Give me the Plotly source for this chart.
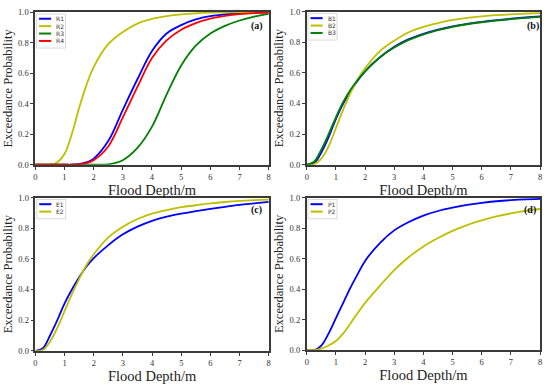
import plotly.graph_objects as go

depth = [0, 0.25, 0.5, 0.75, 1, 1.25, 1.5, 1.75, 2, 2.5, 3, 3.5, 4, 4.5, 5, 5.5, 6, 6.5, 7, 7.5, 8]

# Panel (a)
R1 = [0, 0, 0, 0, 0, 0, 0.004, 0.015, 0.04, 0.155, 0.36, 0.56, 0.745, 0.86, 0.915, 0.952, 0.973, 0.985, 0.992, 0.996, 0.998]
R2 = [0, 0, 0, 0.015, 0.07, 0.2, 0.37, 0.52, 0.64, 0.79, 0.87, 0.925, 0.955, 0.973, 0.985, 0.992, 0.996, 0.998, 0.999, 1.0, 1.0]
R3 = [0, 0, 0, 0, 0, 0, 0, 0, 0, 0.003, 0.03, 0.11, 0.25, 0.46, 0.65, 0.78, 0.86, 0.91, 0.945, 0.97, 0.988]
R4 = [0, 0, 0, 0, 0, 0, 0.003, 0.01, 0.03, 0.12, 0.31, 0.51, 0.70, 0.815, 0.885, 0.928, 0.957, 0.975, 0.987, 0.994, 0.997]
# Panel (b)
B1 = [0, 0.01, 0.08, 0.18, 0.30, 0.40, 0.48, 0.55, 0.61, 0.70, 0.77, 0.82, 0.855, 0.882, 0.903, 0.92, 0.933, 0.944, 0.953, 0.961, 0.968]
B2 = [0, 0.003, 0.04, 0.12, 0.24, 0.36, 0.47, 0.56, 0.63, 0.74, 0.81, 0.865, 0.9, 0.925, 0.945, 0.958, 0.968, 0.976, 0.982, 0.986, 0.99]
B3 = [0, 0.02, 0.10, 0.20, 0.31, 0.41, 0.49, 0.555, 0.61, 0.70, 0.765, 0.815, 0.85, 0.878, 0.90, 0.917, 0.93, 0.941, 0.95, 0.958, 0.965]
# Panel (c)
E1 = [0, 0.015, 0.10, 0.20, 0.31, 0.40, 0.48, 0.55, 0.605, 0.69, 0.76, 0.81, 0.848, 0.875, 0.895, 0.912, 0.927, 0.94, 0.952, 0.962, 0.972]
E2 = [0, 0.005, 0.06, 0.15, 0.26, 0.37, 0.47, 0.56, 0.63, 0.74, 0.81, 0.86, 0.895, 0.918, 0.937, 0.95, 0.962, 0.971, 0.978, 0.983, 0.987]
# Panel (d)
P1 = [0, 0, 0.03, 0.11, 0.21, 0.31, 0.41, 0.50, 0.585, 0.70, 0.785, 0.84, 0.882, 0.912, 0.934, 0.952, 0.966, 0.976, 0.983, 0.988, 0.991]
P2 = [0, 0, 0.01, 0.03, 0.06, 0.11, 0.175, 0.245, 0.31, 0.42, 0.525, 0.61, 0.68, 0.735, 0.782, 0.82, 0.85, 0.876, 0.897, 0.913, 0.925]

x_ticks = [0, 1, 2, 3, 4, 5, 6, 7, 8]
y_ticks = [0.0, 0.2, 0.4, 0.6, 0.8, 1.0]
panel_labels = ["(a)", "(b)", "(c)", "(d)"]
x_title = "Flood Depth/m"
y_title = "Exceedance Probability"

BLUE = "#0000ff"
YEL = "#bfbf00"
GRN = "#008000"
RED = "#ff0000"

panels = [
    [("R1", R1, BLUE), ("R2", R2, YEL), ("R3", R3, GRN), ("R4", R4, RED)],
    [("B1", B1, BLUE), ("B2", B2, YEL), ("B3", B3, GRN)],
    [("E1", E1, BLUE), ("E2", E2, YEL)],
    [("P1", P1, BLUE), ("P2", P2, YEL)],
]

W, H = 550, 386
# plot-area pixel boxes (left, right, top, bottom)
boxes = [(33.5, 268.7, 7.3, 164.0), (307.0, 542.0, 6.7, 164.0),
         (33.7, 268.7, 197.7, 355.0), (307.0, 542.0, 197.7, 354.3)]
label_pos = [(0.95, 0.908), (0.97, 0.908), (0.949, 0.917), (0.956, 0.917)]

fig = go.Figure()
layout = dict(width=W, height=H, margin=dict(l=0, r=0, t=0, b=0),
              paper_bgcolor="white", plot_bgcolor="white", showlegend=False)
shapes = []
annotations = []

for i, (series, box) in enumerate(zip(panels, boxes)):
    n = i + 1
    xa = "x" if n == 1 else f"x{n}"
    ya = "y" if n == 1 else f"y{n}"
    for name, vals, col in series:
        fig.add_trace(go.Scatter(x=depth, y=vals, mode="lines", name=name,
                                 line=dict(color=col, width=1.8, shape="spline", smoothing=1.0),
                                 xaxis=xa, yaxis=ya, showlegend=False))
    l, r, t, b = box
    xd = [l / W, r / W]
    yd = [(H - b) / H, (H - t) / H]
    common = dict(showline=True, mirror=True, linecolor="#3a3a3a", linewidth=1.7,
                  ticks="outside", ticklen=3, tickwidth=1, tickcolor="#3a3a3a",
                  showgrid=False, zeroline=False,
                  tickfont=dict(family="Liberation Serif", size=8.5, color="#333"))
    layout["xaxis" if n == 1 else f"xaxis{n}"] = dict(
        common, domain=xd, range=[0, 8], tickvals=x_ticks, anchor=ya,
        title=dict(text=x_title, standoff=2,
                   font=dict(family="Liberation Serif", size=14.5, color="#222")))
    layout["yaxis" if n == 1 else f"yaxis{n}"] = dict(
        common, domain=yd, range=[0, 1], tickvals=y_ticks, tickformat=".1f", anchor=xa,
        title=dict(text=y_title, standoff=3,
                   font=dict(family="Liberation Serif", size=12.5, color="#222")))

    xdom = f"{xa} domain"
    ydom = f"{ya} domain"
    ph = b - t
    pw = r - l
    # legend box
    top_px = 2.0
    step = 7.6
    k = len(series)
    shapes.append(dict(type="rect", xref=xdom, yref=ydom,
                       x0=1.2 / pw, x1=30.5 / pw,
                       y0=1 - (top_px + k * step + 4.5) / ph, y1=1 - top_px / ph,
                       line=dict(color="#d0d0d0", width=0.8), fillcolor="rgba(255,255,255,0.85)"))
    for j, (name, vals, col) in enumerate(series):
        yy = 1 - (top_px + 4.8 + j * step) / ph
        shapes.append(dict(type="line", xref=xdom, yref=ydom,
                           x0=3.8 / pw, x1=16.0 / pw, y0=yy, y1=yy,
                           line=dict(color=col, width=2)))
        annotations.append(dict(text=name, xref=xdom, yref=ydom, x=19.0 / pw, y=yy,
                                xanchor="left", yanchor="middle", showarrow=False,
                                font=dict(family="DejaVu Sans", size=6, color="#333")))
    lx, ly = label_pos[i]
    annotations.append(dict(text=f"<b>{panel_labels[i]}</b>", xref=xdom, yref=ydom,
                            x=lx, y=ly, xanchor="center", yanchor="middle", showarrow=False,
                            font=dict(family="Liberation Serif", size=10, color="#111")))

layout["shapes"] = shapes
layout["annotations"] = annotations
fig.update_layout(**layout)
fig.write_html("out.html", config={"displayModeBar": False},
               post_script="document.body.style.margin='0';document.body.style.overflow='hidden';")
